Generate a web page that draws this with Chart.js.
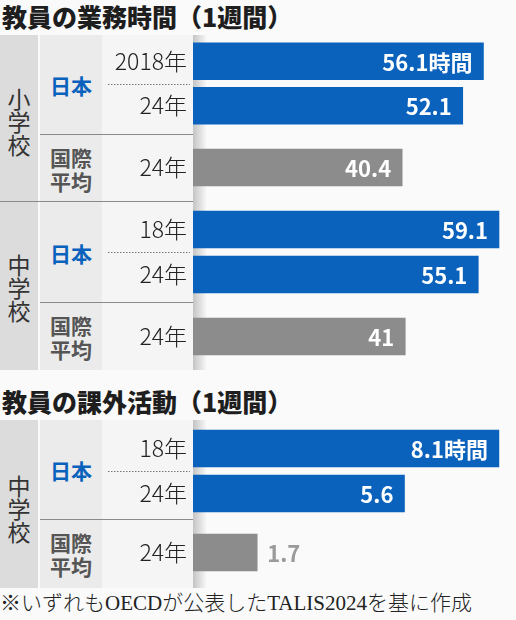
<!DOCTYPE html>
<html lang="ja">
<head>
<meta charset="utf-8">
<script src="https://cdn.jsdelivr.net/npm/chart.js@4/dist/chart.umd.min.js"></script>
<style>
  html, body { margin: 0; padding: 0; background: #fafafa; }
  #page { position: relative; width: 516px; height: 620px; overflow: hidden;
          font-family: "Noto Sans CJK JP", sans-serif; }
  #page div, #page canvas { position: absolute; }
  .title { left: 2px; font-size: 25px; font-weight: 900; color: #1e1e1e; line-height: 30px; white-space: nowrap; }
  .col1 { left: 0; width: 38px; background: #dcdcdc; }
  .col2 { left: 40px; width: 62px; background: #ebebeb; }
  .col3 { left: 102px; width: 91px; background: #f5f5f5; }
  .shadow { left: 193px; width: 14px; background: linear-gradient(to right, #c4c4c4, rgba(250,250,250,0)); }
  .school { left: 0; width: 38px; display: flex; align-items: center; justify-content: center;
            font-size: 23px; line-height: 23px; color: #333; text-align: center; }
  .group { left: 40px; width: 62px; display: flex; align-items: center; justify-content: center;
           font-size: 21px; font-weight: 700; line-height: 24px; text-align: center; }
  .jp { color: #0b62bd; }
  .intl { color: #555; }
  .rule { height: 0; border-top: 1.5px solid #8a8a8a; }
  .note { left: 0; top: 590px; font-size: 21px; line-height: 26px; color: #222; white-space: nowrap;
          font-family: "Liberation Serif", "Noto Sans CJK JP", serif; font-weight: 300; }
</style>
</head>
<body>
<div id="page">
  <div class="title" style="top:1px">教員の業務時間（1週間）</div>
  <div class="col1" style="top:35px;height:335px"></div>
  <div class="col2" style="top:35px;height:335px"></div>
  <div class="col3" style="top:35px;height:335px"></div>
  <div class="shadow" style="top:35px;height:335px"></div>
  <div class="school" style="top:38px;height:167px">小<br>学<br>校</div>
  <div class="school" style="top:204px;height:167px">中<br>学<br>校</div>
  <div class="group jp" style="top:35px;height:100px">日本</div>
  <div class="group intl" style="top:135px;height:67px">国際<br>平均</div>
  <div class="group jp" style="top:202px;height:101px">日本</div>
  <div class="group intl" style="top:303px;height:67px">国際<br>平均</div>
  <div class="rule" style="top:134px;left:40px;width:153px"></div>
  <div class="rule" style="top:201px;left:0;width:193px"></div>
  <div class="rule" style="top:302px;left:40px;width:153px"></div>

  <div class="title" style="top:386px">教員の課外活動（1週間）</div>
  <div class="col1" style="top:420px;height:168px"></div>
  <div class="col2" style="top:420px;height:168px"></div>
  <div class="col3" style="top:420px;height:168px"></div>
  <div class="shadow" style="top:420px;height:168px"></div>
  <div class="school" style="top:424px;height:168px">中<br>学<br>校</div>
  <div class="group jp" style="top:420px;height:100px">日本</div>
  <div class="group intl" style="top:520px;height:68px">国際<br>平均</div>
  <div class="rule" style="top:519px;left:40px;width:153px"></div>

  <div class="note">※いずれもOECDが公表したTALIS2024を基に作成</div>
</div>
<script>
// 数値は OECD TALIS 2024 より（1週間あたりの時間）
const elemJapanYears = ['2018年', '24年'];
const juniorJapanYears = ['18年', '24年'];
const intlYears = ['24年'];

const workElemJapan = [56.1, 52.1];
const workElemIntl = [40.4];
const workJuniorJapan = [59.1, 55.1];
const workJuniorIntl = [41];

const extraJuniorJapan = [8.1, 5.6];
const extraJuniorIntl = [1.7];

const unit = '時間';

const BLUE = '#0b62bd';
const GREY = '#8c8c8c';

Chart.defaults.font.family = '"Noto Sans CJK JP", sans-serif';

// 棒の中の数値と、日本の2行の間の点線
const barText = {
  id: 'barText',
  afterDatasetsDraw(chart, args, opts) {
    const ctx = chart.ctx;
    const meta = chart.getDatasetMeta(0);
    const vals = chart.data.datasets[0].data;
    ctx.save();
    ctx.font = 'bold 22px "Noto Sans CJK JP"';
    ctx.textBaseline = 'middle';
    meta.data.forEach(function(bar, i) {
      const txt = vals[i] + (opts.unit && i === 0 ? unit : '');
      const w = ctx.measureText(txt).width;
      if (bar.x - bar.base > w + 45) {
        ctx.fillStyle = '#fff';
        ctx.textAlign = 'right';
        ctx.fillText(txt, bar.x - 11, bar.y + 1);
      } else {
        // 短い棒は外側に灰色で
        ctx.fillStyle = '#9a9a9a';
        ctx.textAlign = 'left';
        ctx.fillText(txt, bar.x + 10, bar.y + 1);
      }
    });
    if (meta.data.length > 1) {
      const y = Math.round((meta.data[0].y + meta.data[1].y) / 2) + 0.5;
      ctx.strokeStyle = '#777';
      ctx.lineWidth = 1;
      ctx.setLineDash([1.5, 1.5]);
      ctx.beginPath();
      ctx.moveTo(6, y);
      ctx.lineTo(88, y);
      ctx.stroke();
    }
    ctx.restore();
  }
};

function block(top, h, labels, values, color, max, pad, withUnit) {
  const cv = document.createElement('canvas');
  cv.width = 414;
  cv.height = h;
  cv.style.left = '102px';
  cv.style.top = top + 'px';
  document.getElementById('page').appendChild(cv);
  new Chart(cv, {
    type: 'bar',
    data: {
      labels: labels,
      datasets: [{ data: values, backgroundColor: color, barThickness: 37 }]
    },
    options: {
      indexAxis: 'y',
      responsive: false,
      animation: false,
      layout: { padding: { top: pad[0], bottom: pad[1], left: 0, right: 2 } },
      scales: {
        x: { display: false, min: 0, max: max },
        y: {
          grid: { display: false, drawTicks: false },
          border: { display: false },
          ticks: { color: '#222', padding: 6, font: { size: 23, weight: 300 } },
          afterFit: function(s) {
            s.width = 91;
            s.paddingTop = 0;
            s.paddingBottom = 0;
          }
        }
      },
      plugins: {
        legend: { display: false },
        tooltip: { enabled: false },
        barText: { unit: withUnit }
      }
    },
    plugins: [barText]
  });
}

// 業務時間
block(35, 100, elemJapanYears, workElemJapan, BLUE, 62, [4, 7], true);
block(135, 67, intlYears, workElemIntl, GREY, 62, [0, 2], false);
block(202, 101, juniorJapanYears, workJuniorJapan, BLUE, 62, [5, 6], false);
block(303, 67, intlYears, workJuniorIntl, GREY, 62, [0, 0], false);

// 課外活動
block(420, 100, juniorJapanYears, extraJuniorJapan, BLUE, 8.5, [6, 4], true);
block(520, 68, intlYears, extraJuniorIntl, GREY, 8.5, [0, 3], false);
</script>
</body>
</html>
